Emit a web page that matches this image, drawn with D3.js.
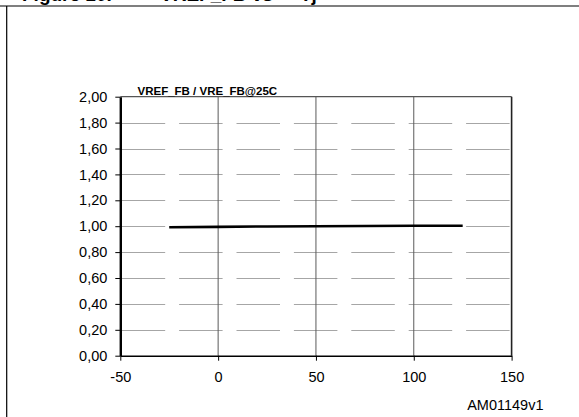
<!DOCTYPE html>
<html>
<head>
<meta charset="utf-8">
<script src="https://cdn.jsdelivr.net/npm/d3@7"></script>
<style>
  html, body { margin: 0; padding: 0; background: #fff; }
  svg { display: block; font-family: "Liberation Sans", Arial, sans-serif; }
</style>
</head>
<body>
<svg id="chart" width="579" height="417"></svg>
<script>
// ---- data ----
const temperatures = [-25, 0, 25, 50, 75, 100, 125];
const ratioValues  = [0.992, 0.995, 0.998, 1.000, 1.002, 1.003, 1.004];
const xTickValues  = [-50, 0, 50, 100, 150];
const yTickValues  = [0, 0.2, 0.4, 0.6, 0.8, 1.0, 1.2, 1.4, 1.6, 1.8, 2.0];
const seriesLabel  = "VREF_FB / VRE_FB@25C";
const figureId     = "AM01149v1";

const svg = d3.select("#chart");
const W = 579, H = 417;

// frame (figure border)
svg.append("line").attr("x1", 0).attr("x2", W).attr("y1", 6).attr("y2", 6)
  .attr("stroke", "#000").attr("stroke-width", 1.2);
svg.append("line").attr("x1", 6.7).attr("x2", 6.7).attr("y1", 6).attr("y2", H)
  .attr("stroke", "#000").attr("stroke-width", 1.2);

// figure caption, clipped at the top edge as in the source
const cap = svg.append("g").attr("font-weight", "bold").attr("font-size", 19);
cap.append("text").attr("x", 22).attr("y", 0.8).text("Figure 10.");
cap.append("text").attr("x", 160).attr("y", 0.8).text("VREF_FB vs");
cap.append("text").attr("x", 300).attr("y", 0.8).text("Tj");

// scales
const x = d3.scaleLinear().domain([-50, 150]).range([120.3, 511.6]);
const y = d3.scaleLinear().domain([0, 2]).range([355.7, 96.7]);

// horizontal dashed gridlines
svg.append("g").selectAll("line")
  .data(yTickValues.filter(v => v > 0 && v < 2))
  .join("line")
  .attr("x1", x(-50) + 1.4).attr("x2", x(150))
  .attr("y1", d => Math.round(y(d)) + 0.5).attr("y2", d => Math.round(y(d)) + 0.5)
  .attr("stroke", "#a6a6a6").attr("stroke-width", 1)
  .attr("stroke-dasharray", "43.5,13.9");

// vertical gridlines
svg.append("g").selectAll("line")
  .data(xTickValues.filter(v => v > -50 && v < 150))
  .join("line")
  .attr("x1", d => x(d)).attr("x2", d => x(d))
  .attr("y1", y(2)).attr("y2", y(0))
  .attr("stroke", "#5a5a5a").attr("stroke-width", 1);

// top border
svg.append("line").attr("x1", x(-50)).attr("x2", x(150))
  .attr("y1", y(2)).attr("y2", y(2))
  .attr("stroke", "#555").attr("stroke-width", 1.3);
// right border
svg.append("line").attr("x1", x(150)).attr("x2", x(150))
  .attr("y1", y(2)).attr("y2", y(0))
  .attr("stroke", "#222").attr("stroke-width", 1.6);

// x axis
const xAxis = d3.axisBottom(x).tickValues(xTickValues).tickSize(5).tickSizeOuter(0).tickPadding(11)
  .tickFormat(d => String(d));
const gx = svg.append("g").attr("transform", `translate(0,${y(0)})`).call(xAxis);
gx.select(".domain").attr("stroke", "#000").attr("stroke-width", 1.6);
gx.selectAll(".tick line").attr("stroke", "#000").attr("stroke-width", 1);
gx.selectAll(".tick text").attr("font-size", 14.5).attr("fill", "#000")
  .attr("font-family", '"Liberation Sans", Arial, sans-serif');

// y axis
const yAxis = d3.axisLeft(y).tickValues(yTickValues).tickSize(5).tickSizeOuter(0).tickPadding(8)
  .tickFormat(d => d3.format(".2f")(d).replace(".", ","));
const gy = svg.append("g").attr("transform", `translate(${x(-50)},0)`).call(yAxis);
gy.select(".domain").attr("stroke", "#000").attr("stroke-width", 2.4);
gy.selectAll(".tick line").attr("stroke", "#000").attr("stroke-width", 1);
gy.selectAll(".tick text").attr("font-size", 14.5).attr("fill", "#000")
  .attr("font-family", '"Liberation Sans", Arial, sans-serif');

// data line
const line = d3.line().x((d, i) => x(temperatures[i])).y(d => y(d));
svg.append("path").datum(ratioValues)
  .attr("d", line).attr("fill", "none")
  .attr("stroke", "#000").attr("stroke-width", 2.6);

// series label
svg.append("text").attr("x", 137.5).attr("y", 95)
  .attr("font-size", 11.5).attr("font-weight", "bold").text(seriesLabel);

// figure id
svg.append("text").attr("x", 543.5).attr("y", 410).attr("text-anchor", "end")
  .attr("font-size", 14.5).text(figureId);
</script>
</body>
</html>
